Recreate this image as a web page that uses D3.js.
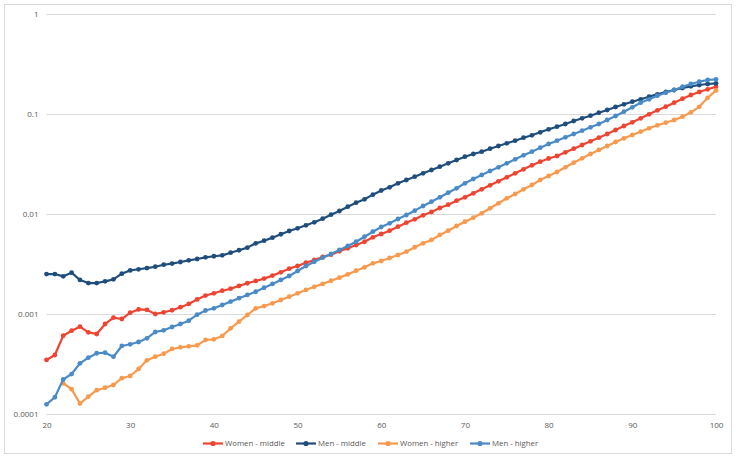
<!DOCTYPE html>
<html lang="en">

<head>
  <meta charset="UTF-8" />
  <title>Mortality by age</title>
  <script src="https://d3js.org/d3.v7.min.js"></script>
  <style>
    body {
      margin: 0;
      background-color: white;
    }

    svg text {
      font-family: 'Open Sans', 'Liberation Sans', sans-serif;
      fill: #595959;
    }
  </style>
</head>

<body>
  <script>
    // ages 20..100
    const ages = d3.range(20, 101);

    const womenMiddle = [
      0.000347, 0.000389, 0.000607, 0.000681, 0.000747, 0.000656, 0.000631, 0.000794, 0.000919, 0.000891,
      0.00103, 0.00111, 0.00110, 0.00100, 0.00104, 0.00109, 0.00117, 0.00126, 0.00140, 0.00153,
      0.00161, 0.00171, 0.00179, 0.00191, 0.00203, 0.00214, 0.00226, 0.00242, 0.00261, 0.00284,
      0.00302, 0.00326, 0.00347, 0.00372, 0.00392, 0.00424, 0.00454, 0.00490, 0.00528, 0.00585,
      0.00631, 0.00681, 0.00747, 0.00818, 0.00885, 0.00970, 0.01047, 0.01148, 0.01240, 0.01359,
      0.01468, 0.01610, 0.01766, 0.01936, 0.02123, 0.02328, 0.02551, 0.02799, 0.03069, 0.03337,
      0.03589, 0.03802, 0.04140, 0.04498, 0.04898, 0.05333, 0.05794, 0.06310, 0.06918, 0.07586,
      0.08260, 0.09057, 0.09931, 0.1089, 0.1183, 0.1297, 0.1422, 0.1549, 0.1660, 0.1766,
      0.1875
    ];

    const menMiddle = [
      0.00251, 0.00251, 0.00238, 0.00259, 0.00219, 0.00204, 0.00204, 0.00212, 0.00222, 0.00253,
      0.00273, 0.00280, 0.00288, 0.00297, 0.00311, 0.00319, 0.00331, 0.00344, 0.00355, 0.00369,
      0.00378, 0.00386, 0.00410, 0.00434, 0.00461, 0.00509, 0.00541, 0.00580, 0.00627, 0.00676,
      0.00719, 0.00771, 0.00826, 0.00898, 0.00984, 0.01072, 0.01183, 0.01297, 0.01402, 0.01561,
      0.01718, 0.01849, 0.02028, 0.02188, 0.02361, 0.02551, 0.02754, 0.02972, 0.03212, 0.03467,
      0.03741, 0.03981, 0.04198, 0.04498, 0.04786, 0.05093, 0.05408, 0.05794, 0.06124, 0.06561,
      0.07031, 0.07464, 0.07943, 0.08511, 0.09057, 0.09616, 0.1030, 0.1096, 0.1175, 0.1250,
      0.1327, 0.1403, 0.1490, 0.1574, 0.1660, 0.1738, 0.1820, 0.1892, 0.1950, 0.1995,
      0.2028
    ];

    // no value for 20 and 21
    const womenHigher = [
      null, null, 0.000203, 0.000177, 0.000127, 0.000149, 0.000173, 0.000183, 0.000195, 0.000228,
      0.000240, 0.000282, 0.000344, 0.000374, 0.000401, 0.000447, 0.000464, 0.000475, 0.000486, 0.000550,
      0.000558, 0.000603, 0.000719, 0.000838, 0.000977, 0.00114, 0.00120, 0.00128, 0.00138, 0.00149,
      0.00161, 0.00174, 0.00187, 0.00200, 0.00215, 0.00231, 0.00249, 0.00271, 0.00293, 0.00321,
      0.00339, 0.00363, 0.00389, 0.00420, 0.00465, 0.00509, 0.00550, 0.00617, 0.00681, 0.00759,
      0.00838, 0.00918, 0.01016, 0.01140, 0.01279, 0.01435, 0.01585, 0.01766, 0.01950, 0.02188,
      0.02399, 0.02630, 0.02931, 0.03258, 0.03606, 0.03981, 0.04365, 0.04786, 0.05248, 0.05715,
      0.06166, 0.06653, 0.07194, 0.07709, 0.08185, 0.08710, 0.09397, 0.1040, 0.1180, 0.1450,
      0.1720
    ];

    const menHigher = [
      0.000125, 0.000147, 0.000222, 0.000251, 0.000321, 0.000366, 0.000405, 0.000410, 0.000374, 0.000479,
      0.000498, 0.000525, 0.000571, 0.000661, 0.000687, 0.000741, 0.000794, 0.000858, 0.000984, 0.001084,
      0.00114, 0.00123, 0.00133, 0.00144, 0.00155, 0.00167, 0.00183, 0.00200, 0.00219, 0.00240,
      0.00269, 0.00302, 0.00333, 0.00366, 0.00398, 0.00437, 0.00479, 0.00528, 0.00593, 0.00665,
      0.00741, 0.00807, 0.00891, 0.00977, 0.01080, 0.01202, 0.01327, 0.01468, 0.01633, 0.01807,
      0.02028, 0.02239, 0.02455, 0.02692, 0.02931, 0.03212, 0.03524, 0.03864, 0.04198, 0.04603,
      0.05012, 0.05408, 0.05848, 0.06310, 0.06808, 0.07362, 0.07943, 0.08710, 0.09550, 0.1054,
      0.1167, 0.1297, 0.1403, 0.1525, 0.1633, 0.1738, 0.1875, 0.1995, 0.2104, 0.2188,
      0.2223
    ];

    const yTicks = [1, 0.1, 0.01, 0.001, 0.0001];
    const yTickLabels = ['1', '0.1', '0.01', '0.001', '0.0001'];
    const xTicks = [20, 30, 40, 50, 60, 70, 80, 90, 100];

    const seriesNames = ['Women - middle', 'Men - middle', 'Women - higher', 'Men - higher'];
    const seriesValues = [womenMiddle, menMiddle, womenHigher, menHigher];
    const colors = ['#EE4431', '#1F4E7D', '#F89A4E', '#4A8BC7'];

    const w = 736;
    const h = 457;

    const svg = d3.select('body')
      .append('svg')
      .attr('width', w)
      .attr('height', h);

    // chart border
    svg.append('rect')
      .attr('x', 4.5)
      .attr('y', 4.5)
      .attr('width', 727)
      .attr('height', 449)
      .attr('fill', 'white')
      .attr('stroke', '#D9D9D9');

    const xScale = d3.scaleLinear()
      .domain([20, 100])
      .range([46.5, 716]);

    const yScale = d3.scaleLog()
      .domain([0.0001, 1])
      .range([414, 14]);

    // gridlines
    svg.append('g')
      .selectAll('line')
      .data(yTicks)
      .enter()
      .append('line')
      .attr('x1', xScale(20))
      .attr('x2', xScale(100))
      .attr('y1', d => Math.round(yScale(d)) + 0.5)
      .attr('y2', d => Math.round(yScale(d)) + 0.5)
      .attr('stroke', '#D9D9D9')
      .attr('stroke-width', 1);

    // y axis labels
    const yAxis = d3.axisLeft(yScale)
      .tickValues(yTicks)
      .tickFormat((d, i) => yTickLabels[i])
      .tickSize(0)
      .tickPadding(8);

    const gy = svg.append('g')
      .attr('transform', `translate(${xScale(20)},0)`)
      .call(yAxis);
    gy.select('.domain').remove();
    gy.selectAll('text')
      .attr('font-size', '8px')
      .attr('fill', '#595959')
      .attr('font-family', "'Open Sans', sans-serif");

    // x axis labels
    const xAxis = d3.axisBottom(xScale)
      .tickValues(xTicks)
      .tickSize(0)
      .tickPadding(8);

    const gx = svg.append('g')
      .attr('transform', `translate(0,${yScale(0.0001)})`)
      .call(xAxis);
    gx.select('.domain').remove();
    gx.selectAll('text')
      .attr('font-size', '8px')
      .attr('fill', '#595959')
      .attr('font-family', "'Open Sans', sans-serif");

    const line = d3.line()
      .defined(d => d[1] != null)
      .x(d => xScale(d[0]))
      .y(d => yScale(d[1]));

    seriesValues.forEach((vals, si) => {
      const pts = ages.map((a, i) => [a, vals[i]]);
      svg.append('path')
        .datum(pts)
        .attr('fill', 'none')
        .attr('stroke', colors[si])
        .attr('stroke-width', 2.2)
        .attr('stroke-linejoin', 'round')
        .attr('d', line);

      svg.append('g')
        .selectAll('circle')
        .data(pts.filter(d => d[1] != null))
        .enter()
        .append('circle')
        .attr('cx', d => xScale(d[0]))
        .attr('cy', d => yScale(d[1]))
        .attr('r', 2.4)
        .attr('fill', colors[si]);
    });

    // legend
    const legendX = [203, 296, 378, 470];
    const legend = svg.append('g');
    seriesNames.forEach((name, i) => {
      const g = legend.append('g')
        .attr('transform', `translate(${legendX[i]},443.5)`);
      g.append('line')
        .attr('x1', 0)
        .attr('x2', 20)
        .attr('stroke', colors[i])
        .attr('stroke-width', 2.2);
      g.append('circle')
        .attr('cx', 10)
        .attr('r', 2.6)
        .attr('fill', colors[i]);
      g.append('text')
        .attr('x', 22)
        .attr('dy', '0.35em')
        .attr('font-size', '7.8px')
        .text(name);
    });
  </script>
</body>

</html>
